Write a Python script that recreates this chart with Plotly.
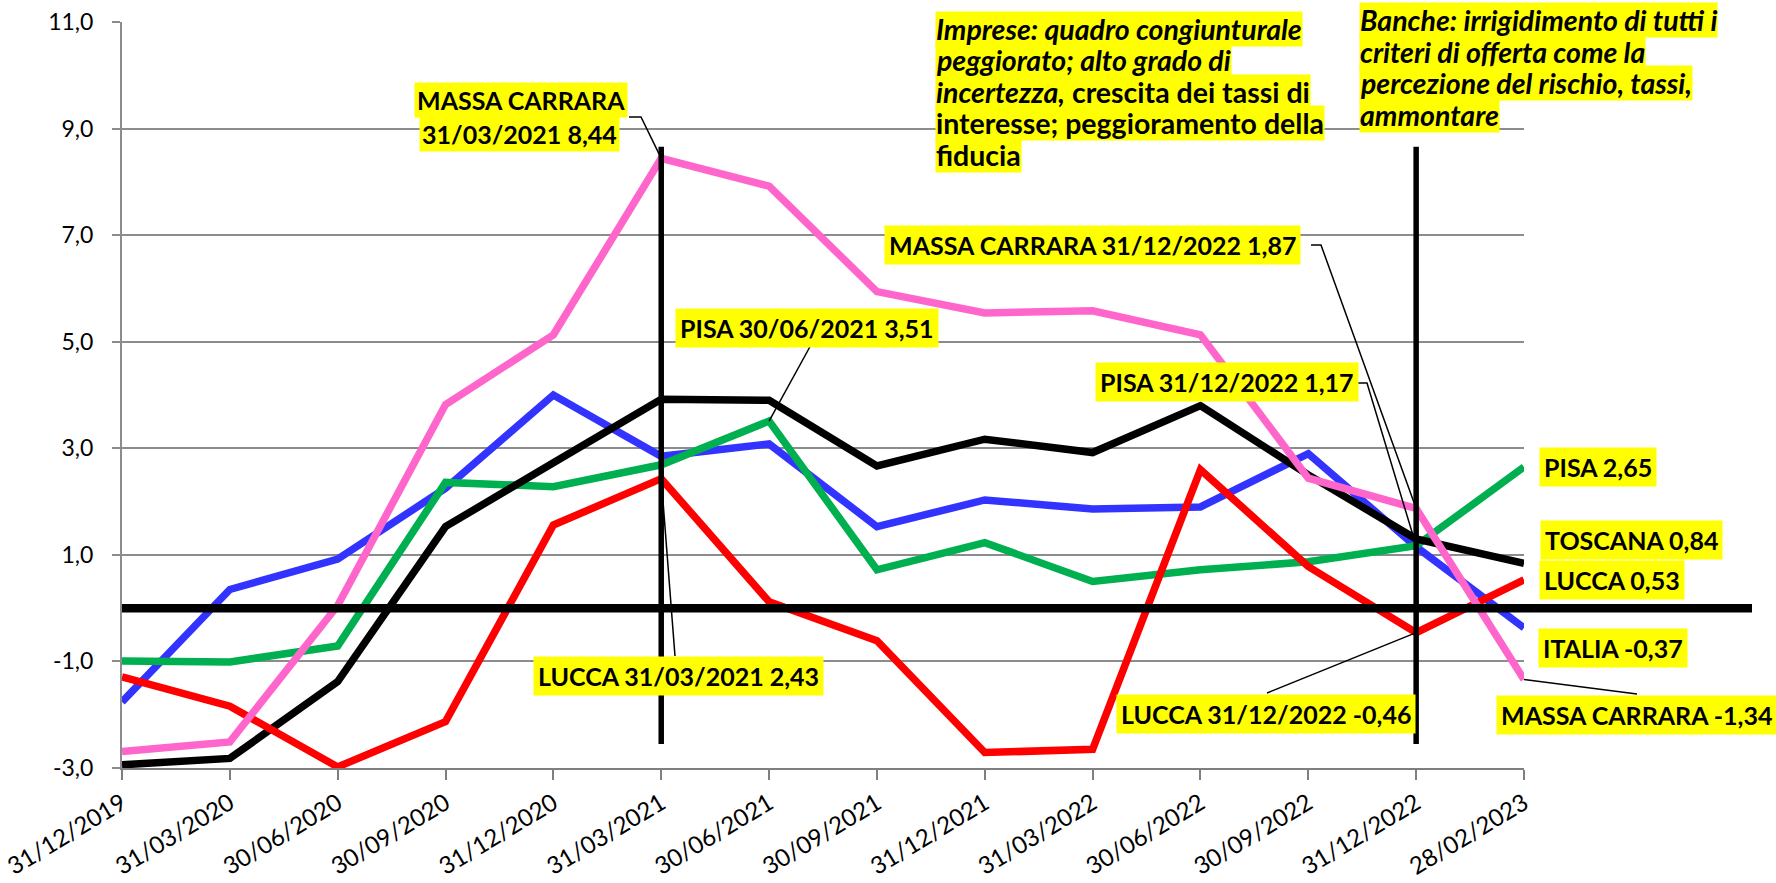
import plotly.graph_objects as go

# ---------------- data ----------------
dates = ["31/12/2019", "31/03/2020", "30/06/2020", "30/09/2020", "31/12/2020",
         "31/03/2021", "30/06/2021", "30/09/2021", "31/12/2021", "31/03/2022",
         "30/06/2022", "30/09/2022", "31/12/2022", "28/02/2023"]
italia = [-1.76, 0.35, 0.92, 2.25, 4.00, 2.85, 3.08, 1.53, 2.03, 1.86, 1.90, 2.90, 1.15, -0.37]
toscana = [-2.94, -2.82, -1.38, 1.53, 2.73, 3.92, 3.90, 2.67, 3.17, 2.92, 3.80, 2.50, 1.30, 0.84]
pisa = [-0.99, -1.01, -0.71, 2.36, 2.28, 2.69, 3.51, 0.72, 1.23, 0.50, 0.72, 0.87, 1.17, 2.65]
lucca = [-1.29, -1.84, -2.98, -2.13, 1.56, 2.43, 0.12, -0.61, -2.71, -2.65, 2.60, 0.78, -0.46, 0.53]
massa = [-2.69, -2.51, 0.05, 3.82, 5.13, 8.44, 7.92, 5.94, 5.54, 5.58, 5.13, 2.44, 1.87, -1.34]
series_names = ["ITALIA", "TOSCANA", "PISA", "LUCCA", "MASSA CARRARA"]
vline_idx = [5, 12]
vline_span = [-2.55, 8.66]
y_ticks = [-3, -1, 1, 3, 5, 7, 9, 11]
y_ticktext = [f"{v:.1f}".replace(".", ",") for v in y_ticks]

imprese_lines = ["<i>Imprese: quadro congiunturale</i>",
                 "<i>peggiorato; alto grado di</i>",
                 "<i>incertezza,</i> crescita dei tassi di",
                 "interesse; peggioramento della",
                 "fiducia"]
banche_lines = ["<i>Banche: irrigidimento di tutti i</i>",
                "<i>criteri di offerta come la</i>",
                "<i>percezione del rischio, tassi,</i>",
                "<i>ammontare</i>"]

# ---------------- geometry ----------------
W, H = 1776, 883
L, R, T, B = 122, 1524, 22, 768
YMIN, YMAX = -3, 11
N = len(dates)
FONT = "Lato"
YEL = "#FFFF00"


def px(X):
    return (X - L) / (R - L)


def py(Y):
    return (B - Y) / (B - T)


def dpx(i):
    return i / (N - 1)


def dpy(v):
    return (v - YMIN) / (YMAX - YMIN)


def fmt(v):
    return f"{v:.2f}".replace(".", ",")


colors = {"ITALIA": "#3333FF", "TOSCANA": "#000000", "PISA": "#00B050",
          "LUCCA": "#FF0000", "MASSA CARRARA": "#FF66CC"}
values = {"ITALIA": italia, "TOSCANA": toscana, "PISA": pisa,
          "LUCCA": lucca, "MASSA CARRARA": massa}

fig = go.Figure()
for name in ["ITALIA", "PISA", "TOSCANA", "LUCCA", "MASSA CARRARA"]:
    fig.add_trace(go.Scatter(x=dates, y=values[name], mode="lines", name=name,
                             line=dict(color=colors[name], width=7.5),
                             showlegend=False, hoverinfo="skip"))

shapes = []
shapes.append(dict(type="line", xref="paper", yref="paper", x0=0, x1=px(1752),
                   y0=dpy(0), y1=dpy(0), line=dict(color="black", width=8.5), layer="above"))
for i in vline_idx:
    shapes.append(dict(type="line", xref="x", yref="y", x0=dates[i], x1=dates[i],
                       y0=vline_span[0], y1=vline_span[1],
                       line=dict(color="black", width=5.5), layer="above"))


def leader(points_px, idx, val):
    pts = [(px(X), py(Y)) for X, Y in points_px] + [(dpx(idx), dpy(val))]
    path = "M " + " L ".join(f"{a},{b}" for a, b in pts)
    shapes.append(dict(type="path", xref="paper", yref="paper", path=path,
                       line=dict(color="black", width=1.5), layer="above"))


bg_annotations = []
annotations = []


def label(text, X, Y, xanchor="center", size=25, pad=4):
    annotations.append(dict(text=text, xref="paper", yref="paper", x=px(X), y=py(Y),
                            xanchor=xanchor, yanchor="middle", showarrow=False,
                            bgcolor=YEL, borderpad=pad,
                            font=dict(family=FONT, size=size, color="black")))


def block_line(text, X, Y, size):
    common = dict(text=text, xref="paper", yref="paper", x=px(X), y=py(Y),
                  xanchor="left", yanchor="middle", showarrow=False, borderpad=0)
    bg_annotations.append(dict(common, bgcolor=YEL,
                               font=dict(family=FONT, size=size, color="rgba(0,0,0,0)")))
    annotations.append(dict(common, font=dict(family=FONT, size=size, color="black")))


# Massa Carrara peak
label("<b>MASSA CARRARA</b>", 521, 100, pad=2)
label(f"<b>{dates[5]} {fmt(massa[5])}</b>", 519, 134, pad=2)
leader([(629, 117), (641, 117)], 5, massa[5])

# Pisa 30/06/2021
label(f"<b>PISA {dates[6]} {fmt(pisa[6])}</b>", 807, 328)
leader([(812, 343)], 6, pisa[6])

# Lucca 31/03/2021
label(f"<b>LUCCA {dates[5]} {fmt(lucca[5])}</b>", 678, 676)
leader([(675, 656)], 5, lucca[5])

# Massa Carrara 31/12/2022
label(f"<b>MASSA CARRARA {dates[12]} {fmt(massa[12])}</b>", 1092, 245)
leader([(1311, 245), (1321, 245)], 12, massa[12])

# Pisa 31/12/2022
label(f"<b>PISA {dates[12]} {fmt(pisa[12])}</b>", 1227, 382)
leader([(1355, 383), (1367, 383)], 12, pisa[12])

# Lucca 31/12/2022
label(f"<b>LUCCA {dates[12]} {fmt(lucca[12])}</b>", 1266, 714)
leader([(1267, 693)], 12, lucca[12])

# end labels
label(f"<b>PISA {fmt(pisa[-1])}</b>", 1598, 467)
label(f"<b>TOSCANA {fmt(toscana[-1])}</b>", 1631, 540)
label(f"<b>LUCCA {fmt(lucca[-1])}</b>", 1612, 580)
label(f"<b>ITALIA {fmt(italia[-1])}</b>", 1613, 648)
label(f"<b>MASSA CARRARA {fmt(massa[-1])}</b>", 1636, 715)
leader([(1637, 694)], N - 1, massa[-1])

# text blocks
for k, line in enumerate(imprese_lines):
    block_line(f"<b>{line}</b>", 935, 29 + 31.4 * k, 28.5)
for k, line in enumerate(banche_lines):
    block_line(f"<b>{line}</b>", 1359, 20 + 31.7 * k, 28.5)

fig.update_layout(
    width=W, height=H,
    margin=dict(l=L, r=W - R, t=T, b=H - B, pad=0, autoexpand=False),
    paper_bgcolor="white", plot_bgcolor="white",
    shapes=shapes, annotations=bg_annotations + annotations,
    font=dict(family=FONT, color="black"),
    xaxis=dict(type="category", range=[0, N - 1], showgrid=False, zeroline=False,
               automargin=False,
               showline=True, linecolor="#7F7F7F", linewidth=2,
               ticks="outside", ticklen=10, tickcolor="#7F7F7F", tickwidth=2,
               tickangle=-31, tickfont=dict(family=FONT, size=24, color="black")),
    yaxis=dict(range=[YMIN, YMAX], tickvals=y_ticks, ticktext=y_ticktext,
               automargin=False,
               showgrid=True, gridcolor="#8C8C8C", gridwidth=2, zeroline=False,
               showline=True, linecolor="#8C8C8C", linewidth=2,
               ticks="outside", ticklen=8, tickcolor="#8C8C8C", tickwidth=2,
               ticklabelstandoff=14,
               tickfont=dict(family=FONT, size=23, color="black")),
)

fig.write_html("out.html", config={"displayModeBar": False},
               post_script="document.body.style.margin='0px';"
                           "document.body.style.overflow='hidden';")
